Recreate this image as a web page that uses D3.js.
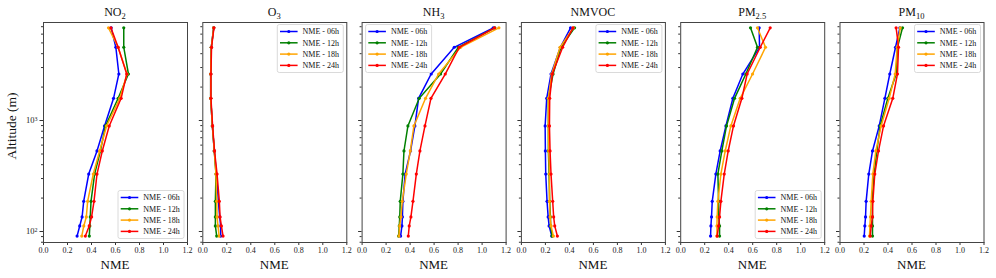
<!DOCTYPE html>
<html>
<head>
<meta charset="utf-8">
<script src="https://cdn.jsdelivr.net/npm/d3@7"></script>
<style>
  body { margin: 0; background: #fff; }
  svg text { font-family: "Liberation Serif", "Times New Roman", serif; }
</style>
</head>
<body>
<div class="container"></div>
<script>
// altitude levels (m), bottom to top
var altitudes = [90, 111, 134, 185, 326, 526, 884, 1568, 2596, 4521, 6770];

var hours = ["NME - 06h", "NME - 12h", "NME - 18h", "NME - 24h"];
var colors = ["#0000ff", "#008000", "#ffa500", "#ff0000"];

var xTicks = [0, 0.2, 0.4, 0.6, 0.8, 1.0, 1.2];

// NME per hour: 06h, 12h, 18h, 24h
var NO2 = [
  [0.284, 0.306, 0.326, 0.339, 0.381, 0.450, 0.513, 0.588, 0.632, 0.607, 0.568],
  [0.386, 0.390, 0.394, 0.400, 0.430, 0.478, 0.521, 0.626, 0.712, 0.673, 0.673],
  [0.323, 0.340, 0.361, 0.372, 0.419, 0.472, 0.530, 0.640, 0.700, 0.626, 0.546],
  [0.353, 0.385, 0.405, 0.425, 0.450, 0.494, 0.552, 0.651, 0.698, 0.626, 0.566]
];
var O3 = [
  [0.153, 0.153, 0.145, 0.134, 0.118, 0.100, 0.084, 0.070, 0.070, 0.075, 0.095],
  [0.120, 0.109, 0.109, 0.109, 0.114, 0.100, 0.084, 0.070, 0.070, 0.075, 0.095],
  [0.140, 0.131, 0.123, 0.120, 0.114, 0.100, 0.084, 0.070, 0.070, 0.075, 0.095],
  [0.173, 0.159, 0.148, 0.142, 0.123, 0.102, 0.086, 0.072, 0.072, 0.077, 0.097]
];
var NH3 = [
  [0.325, 0.336, 0.340, 0.344, 0.363, 0.408, 0.444, 0.475, 0.580, 0.772, 1.097],
  [0.308, 0.314, 0.318, 0.322, 0.344, 0.353, 0.386, 0.480, 0.658, 0.806, 1.110],
  [0.311, 0.317, 0.328, 0.339, 0.372, 0.406, 0.436, 0.533, 0.642, 0.825, 1.144],
  [0.389, 0.397, 0.411, 0.428, 0.456, 0.486, 0.528, 0.578, 0.697, 0.814, 1.108]
];
var NMVOC = [
  [0.257, 0.235, 0.227, 0.218, 0.207, 0.204, 0.202, 0.215, 0.251, 0.329, 0.414],
  [0.260, 0.248, 0.246, 0.240, 0.235, 0.229, 0.229, 0.229, 0.268, 0.334, 0.447],
  [0.271, 0.251, 0.243, 0.238, 0.238, 0.232, 0.229, 0.229, 0.257, 0.326, 0.436],
  [0.304, 0.282, 0.273, 0.265, 0.251, 0.243, 0.238, 0.240, 0.262, 0.348, 0.434]
];
var PM25 = [
  [0.253, 0.256, 0.261, 0.267, 0.297, 0.333, 0.381, 0.439, 0.522, 0.661, 0.658],
  [0.328, 0.328, 0.322, 0.320, 0.314, 0.347, 0.386, 0.453, 0.547, 0.644, 0.586],
  [0.306, 0.306, 0.308, 0.314, 0.339, 0.375, 0.422, 0.500, 0.603, 0.711, 0.644],
  [0.308, 0.320, 0.328, 0.339, 0.367, 0.400, 0.444, 0.514, 0.558, 0.667, 0.750]
];
var PM10 = [
  [0.206, 0.211, 0.217, 0.222, 0.244, 0.275, 0.331, 0.378, 0.419, 0.467, 0.503],
  [0.275, 0.275, 0.275, 0.272, 0.289, 0.311, 0.339, 0.403, 0.472, 0.483, 0.525],
  [0.250, 0.253, 0.258, 0.264, 0.278, 0.303, 0.347, 0.414, 0.464, 0.481, 0.506],
  [0.256, 0.264, 0.275, 0.278, 0.294, 0.325, 0.367, 0.444, 0.483, 0.492, 0.472]
];

var panels = [
  { name: "NO", sub: "2", data: NO2, legend: "lr" },
  { name: "O", sub: "3", data: O3, legend: "ur" },
  { name: "NH", sub: "3", data: NH3, legend: "ul" },
  { name: "NMVOC", sub: "", data: NMVOC, legend: "ur" },
  { name: "PM", sub: "2.5", data: PM25, legend: "lr" },
  { name: "PM", sub: "10", data: PM10, legend: "ur" }
];

const WIDTH = 996, HEIGHT = 278;
const LEFT = 43, STEP = 159.3, PW = 144;
const TOP = 22, BOTTOM = 242;
const SERIF = "Liberation Serif";

var svg = d3.select(".container").append("svg")
  .attr("width", WIDTH).attr("height", HEIGHT);

var x = d3.scaleLinear().domain([0, 1.2]).range([0, PW]);
var y = d3.scaleLog().domain([79.6, 7637]).range([BOTTOM, TOP]);

var minorTicks = [];
[10, 100, 1000].forEach(function (d) {
  for (var m = 2; m <= 9; m++) {
    var v = m * d;
    if (v >= 79.6 && v <= 7637) minorTicks.push(v);
  }
});

var line = d3.line()
  .x(function (d) { return x(d[0]); })
  .y(function (d) { return y(d[1]); });

panels.forEach(function (p, i) {
  var g = svg.append("g").attr("transform", "translate(" + (LEFT + i * STEP) + ",0)");

  // x axis
  var xa = g.append("g")
    .attr("transform", "translate(0," + BOTTOM + ")")
    .call(d3.axisBottom(x).tickValues(xTicks).tickFormat(d3.format(".1f")).tickSize(3).tickPadding(2));
  xa.attr("font-family", SERIF).attr("font-size", 8);
  xa.select(".domain").remove();
  xa.selectAll("line").attr("stroke", "#333");
  xa.selectAll("text").attr("fill", "#222");

  // y axis (major + minor)
  var ya = g.append("g")
    .call(d3.axisLeft(y).tickValues([100, 1000]).tickSize(3.5).tickPadding(2).tickFormat(""));
  ya.attr("font-family", SERIF).attr("font-size", 8.5);
  ya.select(".domain").remove();
  ya.selectAll("line").attr("stroke", "#333");
  if (i === 0) {
    ya.selectAll(".tick text").each(function (d) {
      var t = d3.select(this).attr("fill", "#222");
      t.text(null);
      t.append("tspan").text("10");
      t.append("tspan").attr("dy", "-0.45em").attr("font-size", "6px").text(Math.round(Math.log10(d)));
    });
  }
  var ym = g.append("g")
    .call(d3.axisLeft(y).tickValues(minorTicks).tickSize(2).tickFormat(""));
  ym.select(".domain").remove();
  ym.selectAll("line").attr("stroke", "#333");

  // frame
  g.append("rect")
    .attr("x", 0.5).attr("y", TOP + 0.5)
    .attr("width", PW).attr("height", BOTTOM - TOP)
    .attr("fill", "none").attr("stroke", "#444").attr("stroke-width", 1);

  // series
  p.data.forEach(function (vals, k) {
    var pts = vals.map(function (v, j) { return [v, altitudes[j]]; });
    g.append("path").datum(pts)
      .attr("d", line)
      .attr("fill", "none")
      .attr("stroke", colors[k])
      .attr("stroke-width", 1.5);
    g.selectAll(".m" + k).data(pts).enter().append("circle")
      .attr("cx", function (d) { return x(d[0]); })
      .attr("cy", function (d) { return y(d[1]); })
      .attr("r", 1.6)
      .attr("fill", colors[k]);
  });

  // title
  var title = g.append("text")
    .attr("x", PW / 2).attr("y", 16)
    .attr("text-anchor", "middle")
    .attr("font-family", SERIF)
    .attr("font-size", "12px").attr("fill", "#111");
  title.append("tspan").text(p.name);
  if (p.sub) {
    title.append("tspan").attr("dy", "3").attr("font-size", "8.5px").text(p.sub);
  }

  // x label
  g.append("text")
    .attr("x", PW / 2).attr("y", 269)
    .attr("text-anchor", "middle")
    .attr("font-family", SERIF)
    .attr("font-size", "13px").attr("fill", "#111")
    .text("NME");

  // legend
  var lw = 66, lh = 48;
  var lx = p.legend === "ul" ? 4 : PW - lw - 3;
  var ly = p.legend === "lr" ? BOTTOM - lh - 3.5 : TOP + 2.5;
  var lg = g.append("g").attr("transform", "translate(" + lx + "," + ly + ")");
  lg.append("rect")
    .attr("width", lw).attr("height", lh).attr("rx", 2)
    .attr("fill", "#fff").attr("fill-opacity", 0.85)
    .attr("stroke", "#d0d0d0").attr("stroke-width", 0.8);
  hours.forEach(function (h, k) {
    var ry = 7 + k * 11.3;
    lg.append("line")
      .attr("x1", 2.7).attr("x2", 20.3).attr("y1", ry).attr("y2", ry)
      .attr("stroke", colors[k]).attr("stroke-width", 1.5);
    lg.append("circle").attr("cx", 11.5).attr("cy", ry).attr("r", 1.6).attr("fill", colors[k]);
    lg.append("text")
      .attr("x", 25.3).attr("y", ry + 2.8)
      .attr("font-family", SERIF)
      .attr("font-size", "8px").attr("fill", "#111")
      .text(h);
  });
});

// y label
svg.append("text")
  .attr("transform", "translate(16,126) rotate(-90)")
  .attr("text-anchor", "middle")
  .attr("font-family", SERIF)
  .attr("font-size", "13.5px").attr("fill", "#111")
  .text("Altitude (m)");
</script>
</body>
</html>
